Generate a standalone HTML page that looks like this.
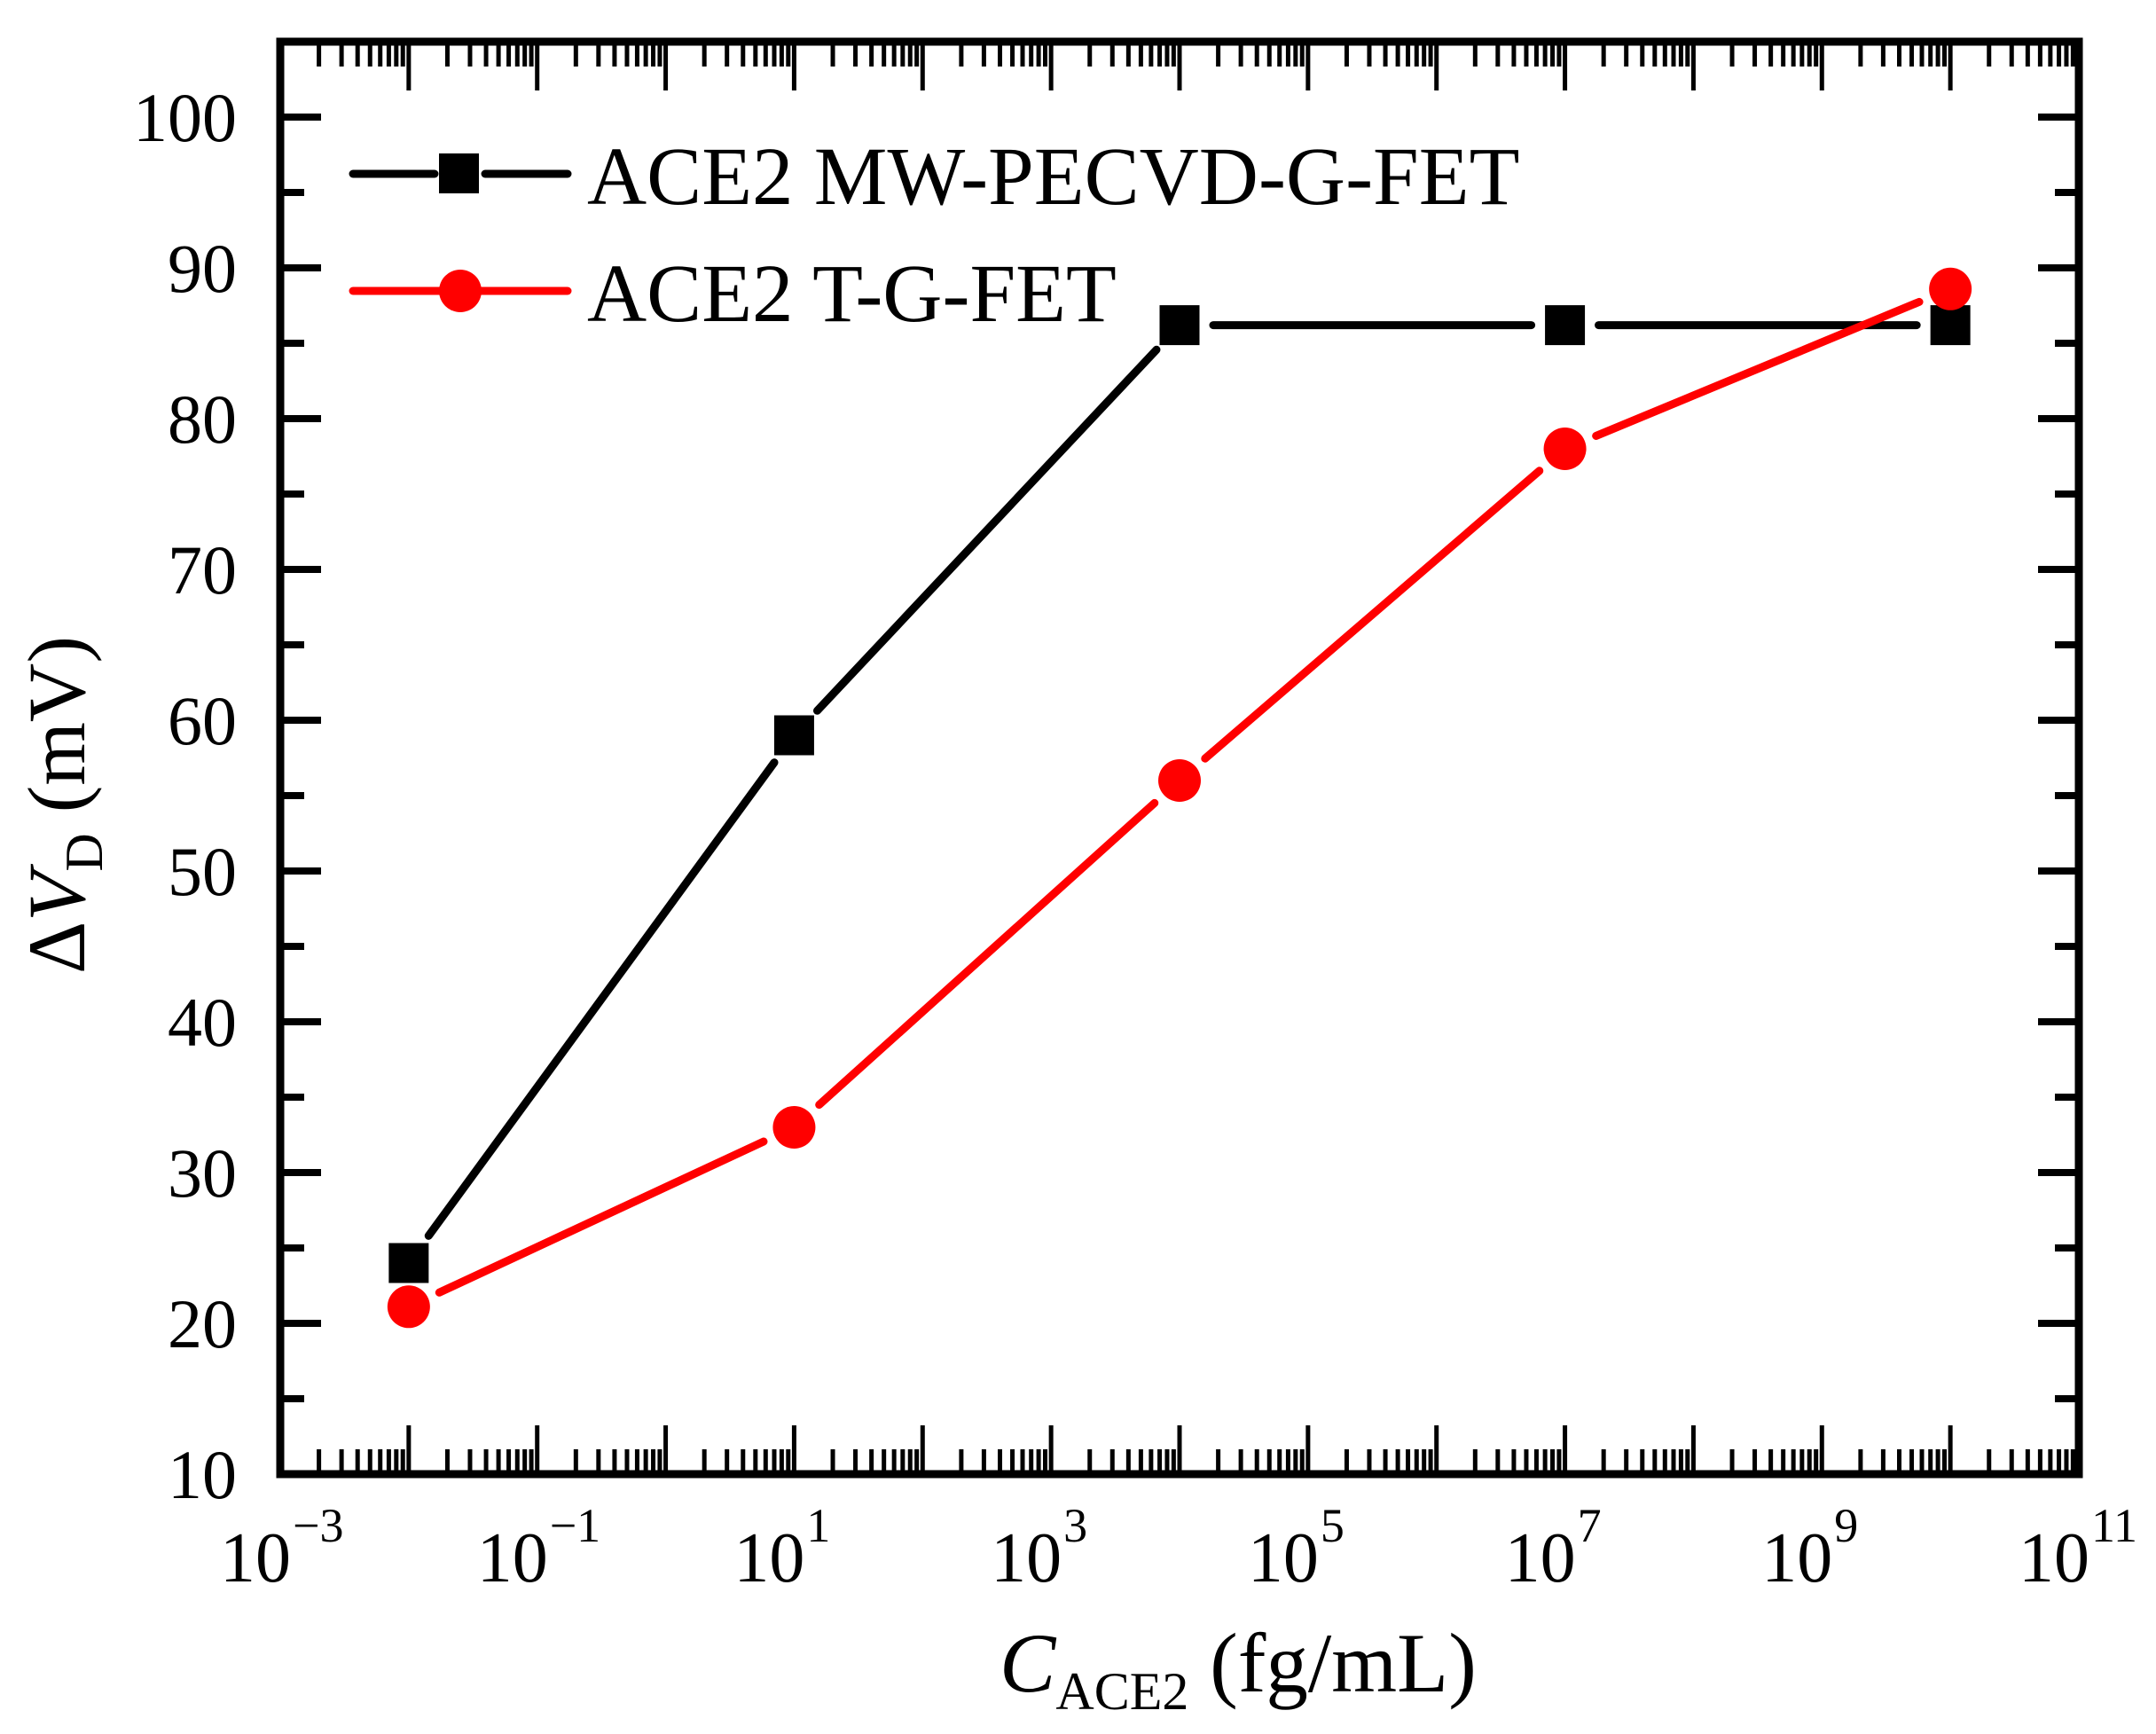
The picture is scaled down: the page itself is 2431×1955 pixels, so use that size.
<!DOCTYPE html>
<html><head><meta charset="utf-8"><style>
html,body{margin:0;padding:0;background:#fff;}
svg{display:block;}
text{font-family:"Liberation Serif",serif;fill:#000;}
</style></head><body>
<svg id="s" width="2431" height="1955" viewBox="0 0 2431 1955" xmlns="http://www.w3.org/2000/svg"></svg>
<script>
const s=document.getElementById('s');
const L=316,R=2344,T=47,B=1662;
const X=e=>L+(e+3)*144.857;
const Y=v=>B-(v-10)*17;
let h='';
for(let d=-3;d<=11;d++){
  const x=X(d);
  if(d>-3&&d<11){
    h+=`<line x1="${x}" y1="${B}" x2="${x}" y2="${B-55}" stroke="#000" stroke-width="5"/>`;
    h+=`<line x1="${x}" y1="${T}" x2="${x}" y2="${T+55}" stroke="#000" stroke-width="5"/>`;
  }
  if(d<11)for(let m=2;m<=9;m++){
    const xm=X(d+Math.log10(m));
    h+=`<line x1="${xm}" y1="${B}" x2="${xm}" y2="${B-28}" stroke="#000" stroke-width="5"/>`;
    h+=`<line x1="${xm}" y1="${T}" x2="${xm}" y2="${T+28}" stroke="#000" stroke-width="5"/>`;
  }
  if((d+3)%2==0){
    h+=`<text x="${x+12}" y="1783" font-size="80" text-anchor="end">10</text>`;
    h+=`<text x="${x+14}" y="1738" font-size="54">${d<0?'\u2212'+(-d):d}</text>`;
  }
}
for(let v=15;v<=100;v+=5){
  const y=Y(v),len=(v%10==0)?46:27;
  h+=`<line x1="${L}" y1="${y}" x2="${L+len}" y2="${y}" stroke="#000" stroke-width="8"/>`;
  h+=`<line x1="${R}" y1="${y}" x2="${R-len}" y2="${y}" stroke="#000" stroke-width="8"/>`;
}
for(let v=10;v<=100;v+=10){
  h+=`<text x="267" y="${Y(v)+27}" font-size="78" text-anchor="end">${v}</text>`;
}
h+=`<rect x="${L}" y="${T}" width="${R-L}" height="${B-T}" fill="none" stroke="#000" stroke-width="9"/>`;
function seg(pts,col){
  let o='';
  for(let i=0;i<pts.length-1;i++){
    const [x1,y1]=pts[i],[x2,y2]=pts[i+1];
    const dx=x2-x1,dy=y2-y1,l=Math.hypot(dx,dy),g=38;
    o+=`<line x1="${x1+dx/l*g}" y1="${y1+dy/l*g}" x2="${x2-dx/l*g}" y2="${y2-dy/l*g}" stroke="${col}" stroke-width="9" stroke-linecap="round"/>`;
  }
  return o;
}
const ex=[-2,1,4,7,10];
const bk=[24,59,86.2,86.2,86.2].map((v,i)=>[X(ex[i]),Y(v)]);
const rd=[21.1,33,56,78,88.6].map((v,i)=>[X(ex[i]),Y(v)]);
h+=seg(bk,'#000');
bk.forEach(([x,y])=>h+=`<rect x="${x-22.5}" y="${y-22.5}" width="45" height="45" fill="#000"/>`);
h+=seg(rd,'#f00');
rd.forEach(([x,y])=>h+=`<ellipse cx="${x}" cy="${y}" rx="24" ry="24" fill="#f00"/>`);
h+=`<line x1="398" y1="196" x2="490" y2="196" stroke="#000" stroke-width="9" stroke-linecap="round"/>`;
h+=`<line x1="547" y1="196" x2="640" y2="196" stroke="#000" stroke-width="9" stroke-linecap="round"/>`;
h+=`<rect x="495" y="173" width="45" height="45" fill="#000"/>`;
h+=`<text x="662" y="230" font-size="93">ACE2 MW-PECVD-G-FET</text>`;
h+=`<line x1="398" y1="328" x2="640" y2="328" stroke="#f00" stroke-width="9" stroke-linecap="round"/>`;
h+=`<ellipse cx="519" cy="328" rx="24" ry="24" fill="#f00"/>`;
h+=`<text x="662" y="362" font-size="93">ACE2 T-G-FET</text>`;
h+=`<text x="1127" y="1907" font-size="95"><tspan font-style="italic">C</tspan><tspan font-size="60" dy="20">ACE2</tspan><tspan dy="-20"> (fg/mL)</tspan></text>`;
h+=`<text transform="translate(95,1098) rotate(-90)" font-size="92">Δ<tspan font-style="italic">V</tspan><tspan font-size="60" dy="20">D</tspan><tspan dy="-20"> (mV)</tspan></text>`;
s.innerHTML=h;
</script>
</body></html>
